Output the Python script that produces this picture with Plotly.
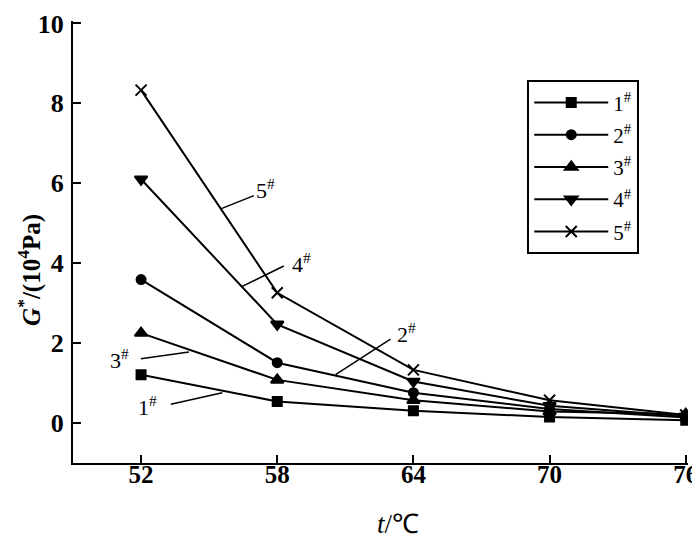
import plotly.graph_objects as go

temps = [52, 58, 64, 70, 76]
g1 = [1.21, 0.54, 0.31, 0.15, 0.07]
g2 = [3.59, 1.51, 0.76, 0.35, 0.14]
g3 = [2.25, 1.08, 0.57, 0.29, 0.22]
g4 = [6.10, 2.47, 1.04, 0.43, 0.17]
g5 = [8.33, 3.26, 1.33, 0.57, 0.20]
series_names = ["1<sup>#</sup>", "2<sup>#</sup>", "3<sup>#</sup>", "4<sup>#</sup>", "5<sup>#</sup>"]
x_ticks = [52, 58, 64, 70, 76]
y_ticks = [0, 2, 4, 6, 8, 10]

FONT = "Liberation Serif"

symbols = ["square", "circle", "triangle-up", "triangle-down", "x-thin"]
sizes = [9, 9, 11, 11, 11]
fig = go.Figure()
for i, (name, vals, sym, sz) in enumerate(zip(series_names, [g1, g2, g3, g4, g5], symbols, sizes)):
    fig.add_trace(go.Scatter(
        x=temps, y=vals, name=name, mode="lines+markers", legendgroup="g%d" % i,
        line=dict(color="black", width=2),
        marker=dict(symbol=sym, size=sz, color="black",
                    line=dict(color="black", width=2)),
    ))

# leader lines (data coords) and labels
leaders = [
    ((55.51, 5.36), (56.97, 5.69)),
    ((56.46, 3.42), (58.29, 3.93)),
    ((51.99, 1.61), (54.11, 1.78)),
    ((53.31, 0.47), (55.58, 0.76)),
    ((60.57, 1.21), (62.99, 2.10)),
]
for (x0, y0), (x1, y1) in leaders:
    fig.add_shape(type="line", x0=x0, y0=y0, x1=x1, y1=y1, xref="x", yref="y",
                  line=dict(color="black", width=1.5))

labels = [
    ("5<sup>#</sup>", 56.97, 5.86, "left"),
    ("4<sup>#</sup>", 58.56, 4.00, "left"),
    ("3<sup>#</sup>", 51.56, 1.60, "right"),
    ("1<sup>#</sup>", 52.79, 0.43, "right"),
    ("2<sup>#</sup>", 63.17, 2.26, "left"),
]
for txt, x, y, xa in labels:
    fig.add_annotation(x=x, y=y, xref="x", yref="y", text=txt, showarrow=False,
                       xanchor=xa, yanchor="middle",
                       font=dict(family=FONT, size=22, color="black"))

# axis titles
fig.add_annotation(x=-0.0698, y=0.437, xref="paper", yref="paper",
                   text="<b><i>G</i><sup>*</sup>/(10<sup>4</sup>Pa)</b>", textangle=-90,
                   showarrow=False, xanchor="center", yanchor="middle",
                   font=dict(family=FONT, size=25, color="black"))
fig.add_annotation(x=0.529, y=-0.137, xref="paper", yref="paper",
                   text="<i>t</i>/℃", showarrow=False, xanchor="center", yanchor="middle",
                   font=dict(family=FONT, size=27, color="black"))

fig.update_layout(
    width=692, height=530,
    margin=dict(l=65, r=11, t=2, b=75),
    paper_bgcolor="white", plot_bgcolor="white",
    font=dict(family=FONT, color="black"),
    showlegend=True,
    legend=dict(x=0.7386, y=0.866, xanchor="left", yanchor="top",
                bordercolor="black", borderwidth=2, bgcolor="white",
                itemwidth=74, tracegroupgap=2,
                font=dict(family=FONT, size=21, color="black")),
    xaxis=dict(range=[49, 76.1], tickvals=x_ticks, ticktext=["<b>%d</b>" % v for v in x_ticks],
               showline=True, linecolor="black", linewidth=2,
               ticks="inside", ticklen=8, tickwidth=1.5, tickcolor="black",
               showgrid=False, zeroline=False, ticklabelstandoff=-12,
               ticklabeloverflow="allow",
               tickfont=dict(family=FONT, size=25, color="black")),
    yaxis=dict(range=[-1, 10.06], tickvals=y_ticks, ticktext=["<b>%d</b>" % v for v in y_ticks],
               showline=True, linecolor="black", linewidth=2,
               ticks="inside", ticklen=8, tickwidth=1.5, tickcolor="black",
               showgrid=False, zeroline=False, ticklabelstandoff=2,
               ticklabeloverflow="allow",
               tickfont=dict(family=FONT, size=26, color="black")),
)

fig.write_html("out.html")
